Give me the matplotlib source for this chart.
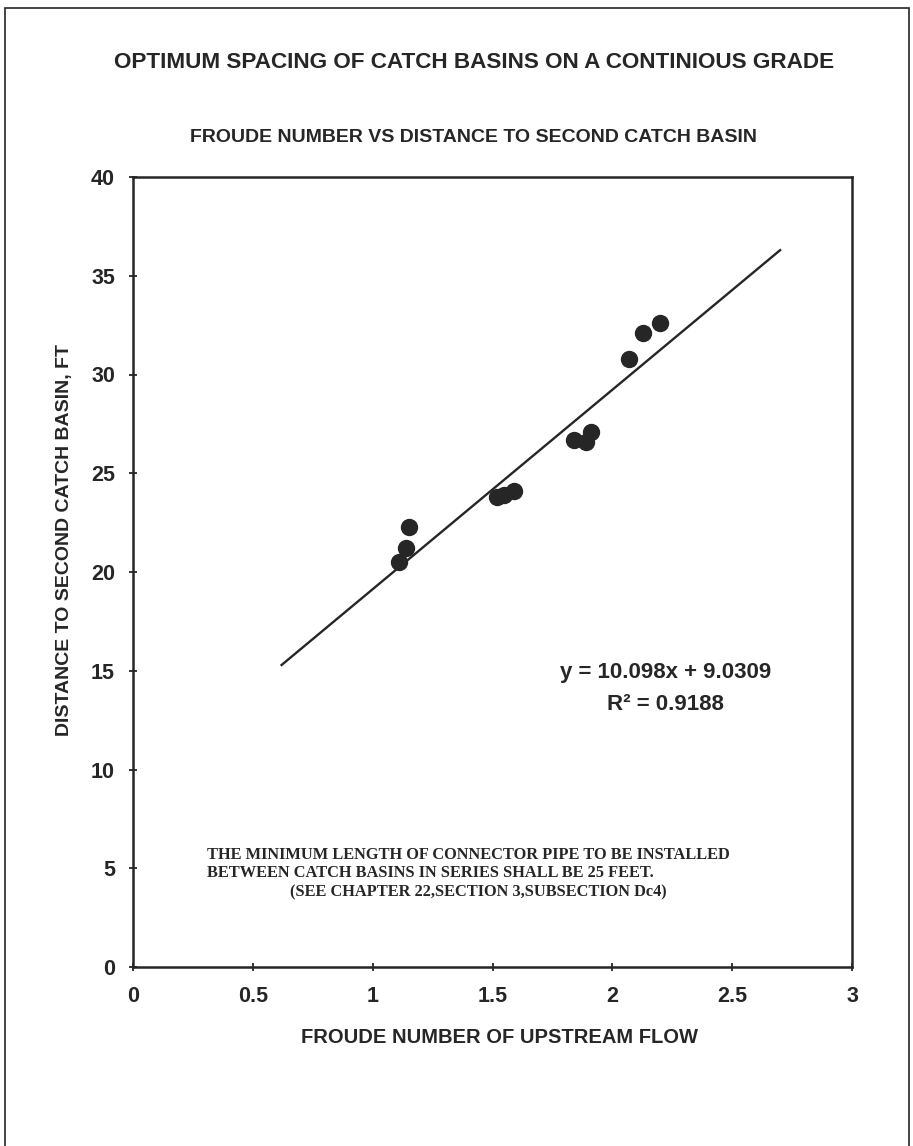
import matplotlib.pyplot as plt
from matplotlib.patches import Rectangle

# data
froude = [1.11, 1.14, 1.15, 1.52, 1.55, 1.59, 1.84, 1.89, 1.91, 2.07, 2.13, 2.20]
distance = [20.5, 21.2, 22.3, 23.8, 23.9, 24.1, 26.7, 26.6, 27.1, 30.8, 32.1, 32.6]
slope = 10.098
intercept = 9.0309
r2 = 0.9188
trend_x = [0.62, 2.70]
x_ticks = [0, 0.5, 1, 1.5, 2, 2.5, 3]
x_tick_labels = ['0', '0.5', '1', '1.5', '2', '2.5', '3']
y_ticks = [0, 5, 10, 15, 20, 25, 30, 35, 40]

ink = '#262626'
sans = ['Liberation Sans', 'DejaVu Sans']
serif = ['Liberation Serif', 'DejaVu Serif']
plt.rcParams['font.family'] = sans

fig = plt.figure(figsize=(9.13, 11.46), dpi=100)
ax = fig.add_axes([133 / 913, 1 - 967 / 1146, 719 / 913, 790 / 1146])

# scanned page frame
fig.patches.append(Rectangle((5 / 913, -0.01), 904 / 913, 1.01 - 8 / 1146,
                             transform=fig.transFigure, fill=False,
                             edgecolor=ink, linewidth=1.2))

# points and trend line
ax.plot(froude, distance, 'o', color=ink, markersize=11.5, zorder=3)
trend_y = [slope * x + intercept for x in trend_x]
ax.plot(trend_x, trend_y, color=ink, linewidth=1.7)

ax.set_xlim(0, 3)
ax.set_ylim(0, 40)
ax.set_xticks(x_ticks)
ax.set_xticklabels(x_tick_labels)
ax.set_yticks(y_ticks)
ax.tick_params(direction='inout', length=6, width=1.3, color=ink,
               labelsize=15.5, labelcolor=ink)
ax.tick_params(axis='x', pad=11)
ax.tick_params(axis='y', pad=10)
for lbl in ax.get_xticklabels() + ax.get_yticklabels():
    lbl.set_fontweight('bold')
for sp in ax.spines.values():
    sp.set_linewidth(1.8)
    sp.set_color(ink)

ax.set_xlabel('FROUDE NUMBER OF UPSTREAM FLOW', fontsize=14.5,
              fontweight='bold', color=ink)
ax.xaxis.set_label_coords(0.51, -0.077)
ax.set_ylabel('DISTANCE TO SECOND CATCH BASIN, FT', fontsize=14,
              fontweight='bold', color=ink)
ax.yaxis.set_label_coords(-0.083, 0.54)

# trendline label
ax.text(0.741, 0.373, f'y = {slope}x + {intercept}', transform=ax.transAxes,
        ha='center', va='center', fontsize=16, fontweight='bold', color=ink)
ax.text(0.741, 0.332, f'R² = {r2}', transform=ax.transAxes,
        ha='center', va='center', fontsize=16, fontweight='bold', color=ink)

# note
note_kw = dict(transform=ax.transAxes, ha='left', va='center', fontsize=11.8,
               fontweight='bold', color=ink, family=serif)
ax.text(0.103, 0.142, 'THE MINIMUM LENGTH OF CONNECTOR PIPE TO BE INSTALLED', **note_kw)
ax.text(0.103, 0.119, 'BETWEEN CATCH BASINS IN SERIES SHALL BE 25 FEET.', **note_kw)
ax.text(0.218, 0.094, '(SEE CHAPTER 22,SECTION 3,SUBSECTION Dc4)', **note_kw)

# titles
fig.text(0.519, 1 - 63 / 1146, 'OPTIMUM SPACING OF CATCH BASINS ON A CONTINIOUS GRADE',
         ha='center', va='center', fontsize=16.2, fontweight='bold', color=ink)
fig.text(0.519, 1 - 137 / 1146, 'FROUDE NUMBER VS DISTANCE TO SECOND CATCH BASIN',
         ha='center', va='center', fontsize=14, fontweight='bold', color=ink)

fig.savefig('out.png', dpi=100)
